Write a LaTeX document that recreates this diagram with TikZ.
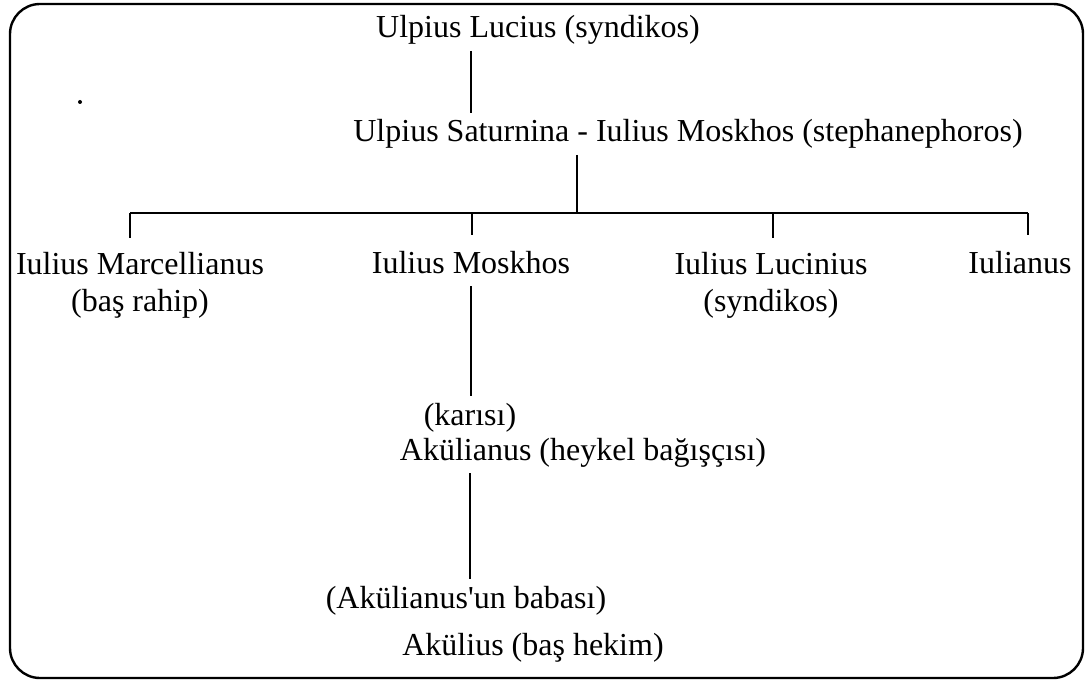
\documentclass[tikz,border=0pt]{standalone}
\usepackage{fontspec}
\setmainfont{Liberation Serif}[Ligatures=TeXOff]
\begin{document}
\begin{tikzpicture}[x=.5pt, y=-.5pt, line width=1pt,
  kin/.style={anchor=base, inner sep=2pt, text height=12pt, text depth=4pt, font=\fontsize{16}{18.5}\selectfont},
  kinpair/.style={anchor=north, inner sep=2pt, align=center, font=\fontsize{16}{18.5}\selectfont}]
\useasboundingbox (0,0) rectangle (1090,684);
\draw[line width=1.2pt, rounded corners=15pt](10,4) rectangle (1083,678);
\fill (80,102) circle[radius=1pt];
\node[kin] (top) at (538,38) {Ulpius Lucius (syndikos)};
\node[kin] (sat) at (688,142) {Ulpius Saturnina - Iulius Moskhos (stephanephoros)};
\node[kinpair] (marc) at (140,247) {Iulius Marcellianus\\(baş rahip)};
\node[kin] (mos) at (471,273) {Iulius Moskhos};
\node[kinpair] (luc) at (771,247) {Iulius Lucinius\\(syndikos)};
\node[kin] (iuli) at (1020,273) {Iulianus};
\node[kin] (kar) at (470,425) {(karısı)};
\node[kin] (aku) at (583,460) {Akülianus (heykel bağışçısı)};
\node[kin] (bab) at (466,608) {(Akülianus'un babası)};
\node[kin] (akl) at (533,655) {Akülius (baş hekim)};
\coordinate (bar) at (577,213);
\coordinate (d1) at (130,213);
\coordinate (d2) at (472,213);
\coordinate (d3) at (773,213);
\coordinate (d4) at (1028,213);
\draw (top.south -| mos) -- (sat.north -| mos);
\draw (sat.south -| bar) -- (bar);
\draw (d1) -- (d4);
\foreach \d/\n in {d1/marc, d2/mos, d3/luc, d4/iuli}
  \draw[shorten >=4.5pt] (\d) -- (\d |- \n.north);
\draw (mos.south) -- (kar.north -| mos);
\draw (aku.south -| kar) -- (bab.north -| kar);
\end{tikzpicture}
\end{document}
